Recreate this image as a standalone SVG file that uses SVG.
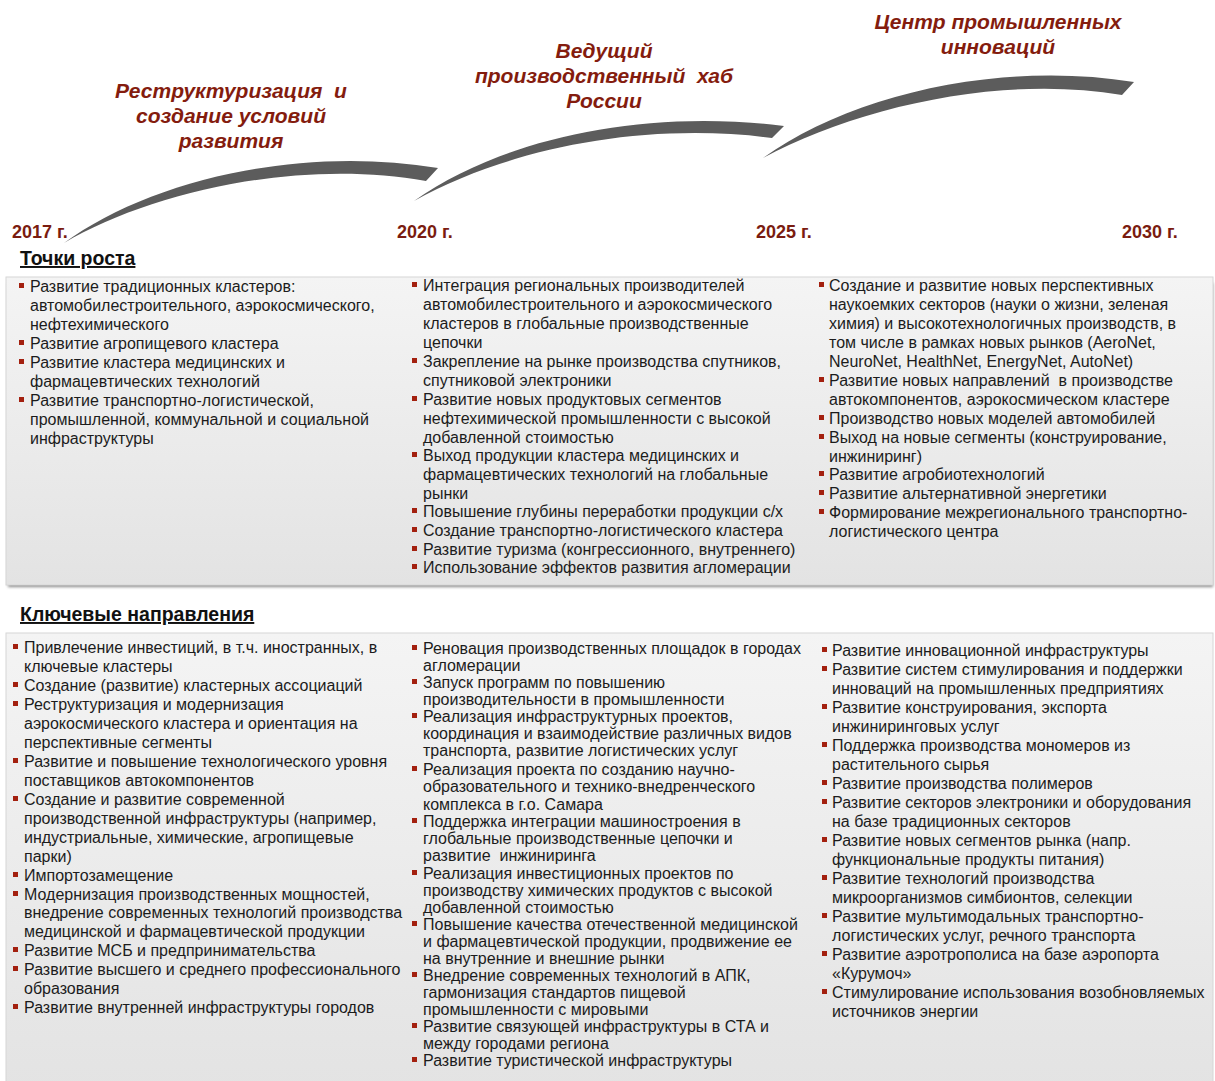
<svg xmlns="http://www.w3.org/2000/svg" width="1215" height="1081" viewBox="0 0 1215 1081">
<style>
.t{font-family:"Liberation Sans",Arial,sans-serif;font-size:16px;fill:#1c1c1c}
.ttl{font-family:"Liberation Sans",Arial,sans-serif;font-size:21px;font-weight:bold;font-style:italic;fill:#841c0e;text-anchor:middle}
.yr{font-family:"Liberation Sans",Arial,sans-serif;font-size:18px;font-weight:bold;fill:#7a1c10}
.hd{font-family:"Liberation Sans",Arial,sans-serif;font-size:19.5px;font-weight:bold;fill:#111;text-decoration:underline}
.b{fill:#a3200f}
.arc{fill:#5c5c5c;filter:url(#soft)}
.panel{fill:url(#pg);stroke:#d6d6d6;stroke-width:1}
</style>
<defs>
<linearGradient id="pg" x1="0" y1="0" x2="0" y2="1">
<stop offset="0" stop-color="#f4f4f4"/>
<stop offset="1" stop-color="#e3e3e3"/>
</linearGradient>
<filter id="soft" x="-5%" y="-20%" width="110%" height="140%"><feGaussianBlur stdDeviation="0.7"/></filter>
<filter id="sh" x="-2%" y="-5%" width="104%" height="112%"><feGaussianBlur stdDeviation="1.5"/></filter>
</defs>

<g id="timeline">
<path class="arc" d="M64,243 C150,180 300,145 438,168 L426,181 C300,158 150,192 64,243 Z"/>
<path class="arc" d="M414,201 C500,140 640,108 784,126 L772,138 C640,121 505,150 414,201 Z"/>
<path class="arc" d="M763,158 C850,95 1000,60 1134,82 L1122,95 C1000,74 855,108 763,158 Z"/>
</g>

<g id="stage-titles">
<text class="ttl" x="231" y="98">Реструктуризация&#160; и</text>
<text class="ttl" x="231" y="123">создание условий</text>
<text class="ttl" x="231" y="148">развития</text>
<text class="ttl" x="604" y="58">Ведущий</text>
<text class="ttl" x="604" y="83">производственный&#160; хаб</text>
<text class="ttl" x="604" y="108">России</text>
<text class="ttl" x="998" y="29">Центр промышленных</text>
<text class="ttl" x="998" y="54">инноваций</text>
</g>

<g id="years">
<text class="yr" x="12" y="238">2017 г.</text>
<text class="yr" x="397" y="238">2020 г.</text>
<text class="yr" x="756" y="238">2025 г.</text>
<text class="yr" x="1122" y="238">2030 г.</text>
</g>

<g id="growth-points">
<text class="hd" x="20" y="265">Точки роста</text>
<rect x="8" y="283" width="1205" height="304" fill="#8a8a8a" filter="url(#sh)"/>
<rect class="panel" x="6" y="277" width="1207" height="308"/>
<g id="gp-col1">
<rect class="b" x="19" y="283" width="5" height="5"/>
<rect class="b" x="19" y="340" width="5" height="5"/>
<rect class="b" x="19" y="359" width="5" height="5"/>
<rect class="b" x="19" y="397" width="5" height="5"/>
<text class="t">
<tspan x="30" y="292">Развитие традиционных кластеров:</tspan>
<tspan x="30" y="311">автомобилестроительного, аэрокосмического,</tspan>
<tspan x="30" y="330">нефтехимического</tspan>
<tspan x="30" y="349">Развитие агропищевого кластера</tspan>
<tspan x="30" y="368">Развитие кластера медицинских и</tspan>
<tspan x="30" y="387">фармацевтических технологий</tspan>
<tspan x="30" y="406">Развитие транспортно-логистической,</tspan>
<tspan x="30" y="425">промышленной, коммунальной и социальной</tspan>
<tspan x="30" y="444">инфраструктуры</tspan>
</text>
</g>
<g id="gp-col2">
<rect class="b" x="412" y="282" width="5" height="5"/>
<rect class="b" x="412" y="358" width="5" height="5"/>
<rect class="b" x="412" y="396" width="5" height="5"/>
<rect class="b" x="412" y="452" width="5" height="5"/>
<rect class="b" x="412" y="508" width="5" height="5"/>
<rect class="b" x="412" y="527" width="5" height="5"/>
<rect class="b" x="412" y="546" width="5" height="5"/>
<rect class="b" x="412" y="564" width="5" height="5"/>
<text class="t">
<tspan x="423" y="291">Интеграция региональных производителей</tspan>
<tspan x="423" y="310">автомобилестроительного и аэрокосмического</tspan>
<tspan x="423" y="329">кластеров в глобальные производственные</tspan>
<tspan x="423" y="348">цепочки</tspan>
<tspan x="423" y="367">Закрепление на рынке производства спутников,</tspan>
<tspan x="423" y="386">спутниковой электроники</tspan>
<tspan x="423" y="405">Развитие новых продуктовых сегментов</tspan>
<tspan x="423" y="424">нефтехимической промышленности с высокой</tspan>
<tspan x="423" y="443">добавленной стоимостью</tspan>
<tspan x="423" y="461">Выход продукции кластера медицинских и</tspan>
<tspan x="423" y="480">фармацевтических технологий на глобальные</tspan>
<tspan x="423" y="499">рынки</tspan>
<tspan x="423" y="517">Повышение глубины переработки продукции с/х</tspan>
<tspan x="423" y="536">Создание транспортно-логистического кластера</tspan>
<tspan x="423" y="555">Развитие туризма (конгрессионного, внутреннего)</tspan>
<tspan x="423" y="573">Использование эффектов развития агломерации</tspan>
</text>
</g>
<g id="gp-col3">
<rect class="b" x="819" y="282" width="5" height="5"/>
<rect class="b" x="819" y="377" width="5" height="5"/>
<rect class="b" x="819" y="415" width="5" height="5"/>
<rect class="b" x="819" y="434" width="5" height="5"/>
<rect class="b" x="819" y="471" width="5" height="5"/>
<rect class="b" x="819" y="490" width="5" height="5"/>
<rect class="b" x="819" y="509" width="5" height="5"/>
<text class="t">
<tspan x="829" y="291">Создание и развитие новых перспективных</tspan>
<tspan x="829" y="310">наукоемких секторов (науки о жизни, зеленая</tspan>
<tspan x="829" y="329">химия) и высокотехнологичных производств, в</tspan>
<tspan x="829" y="348">том числе в рамках новых рынков (AeroNet,</tspan>
<tspan x="829" y="367">NeuroNet, HealthNet, EnergyNet, AutoNet)</tspan>
<tspan x="829" y="386">Развитие новых направлений&#160; в производстве</tspan>
<tspan x="829" y="405">автокомпонентов, аэрокосмическом кластере</tspan>
<tspan x="829" y="424">Производство новых моделей автомобилей</tspan>
<tspan x="829" y="443">Выход на новые сегменты (конструирование,</tspan>
<tspan x="829" y="462">инжиниринг)</tspan>
<tspan x="829" y="480">Развитие агробиотехнологий</tspan>
<tspan x="829" y="499">Развитие альтернативной энергетики</tspan>
<tspan x="829" y="518">Формирование межрегионального транспортно-</tspan>
<tspan x="829" y="537">логистического центра</tspan>
</text>
</g>
</g>

<g id="key-directions">
<text class="hd" x="20" y="621">Ключевые направления</text>
<rect class="panel" x="6" y="633" width="1207" height="460"/>
<g id="kd-col1">
<rect class="b" x="13" y="644" width="5" height="5"/>
<rect class="b" x="13" y="682" width="5" height="5"/>
<rect class="b" x="13" y="701" width="5" height="5"/>
<rect class="b" x="13" y="758" width="5" height="5"/>
<rect class="b" x="13" y="796" width="5" height="5"/>
<rect class="b" x="13" y="872" width="5" height="5"/>
<rect class="b" x="13" y="891" width="5" height="5"/>
<rect class="b" x="13" y="947" width="5" height="5"/>
<rect class="b" x="13" y="966" width="5" height="5"/>
<rect class="b" x="13" y="1004" width="5" height="5"/>
<text class="t">
<tspan x="24" y="653">Привлечение инвестиций, в т.ч. иностранных, в</tspan>
<tspan x="24" y="672">ключевые кластеры</tspan>
<tspan x="24" y="691">Создание (развитие) кластерных ассоциаций</tspan>
<tspan x="24" y="710">Реструктуризация и модернизация</tspan>
<tspan x="24" y="729">аэрокосмического кластера и ориентация на</tspan>
<tspan x="24" y="748">перспективные сегменты</tspan>
<tspan x="24" y="767">Развитие и повышение технологического уровня</tspan>
<tspan x="24" y="786">поставщиков автокомпонентов</tspan>
<tspan x="24" y="805">Создание и развитие современной</tspan>
<tspan x="24" y="824">производственной инфраструктуры (например,</tspan>
<tspan x="24" y="843">индустриальные, химические, агропищевые</tspan>
<tspan x="24" y="862">парки)</tspan>
<tspan x="24" y="881">Импортозамещение</tspan>
<tspan x="24" y="900">Модернизация производственных мощностей,</tspan>
<tspan x="24" y="918">внедрение современных технологий производства</tspan>
<tspan x="24" y="937">медицинской и фармацевтической продукции</tspan>
<tspan x="24" y="956">Развитие МСБ и предпринимательства</tspan>
<tspan x="24" y="975">Развитие высшего и среднего профессионального</tspan>
<tspan x="24" y="994">образования</tspan>
<tspan x="24" y="1013">Развитие внутренней инфраструктуры городов</tspan>
</text>
</g>
<g id="kd-col2">
<rect class="b" x="412" y="645" width="5" height="5"/>
<rect class="b" x="412" y="679" width="5" height="5"/>
<rect class="b" x="412" y="713" width="5" height="5"/>
<rect class="b" x="412" y="766" width="5" height="5"/>
<rect class="b" x="412" y="818" width="5" height="5"/>
<rect class="b" x="412" y="870" width="5" height="5"/>
<rect class="b" x="412" y="921" width="5" height="5"/>
<rect class="b" x="412" y="972" width="5" height="5"/>
<rect class="b" x="412" y="1023" width="5" height="5"/>
<rect class="b" x="412" y="1057" width="5" height="5"/>
<text class="t">
<tspan x="423" y="654">Реновация производственных площадок в городах</tspan>
<tspan x="423" y="671">агломерации</tspan>
<tspan x="423" y="688">Запуск программ по повышению</tspan>
<tspan x="423" y="705">производительности в промышленности</tspan>
<tspan x="423" y="722">Реализация инфраструктурных проектов,</tspan>
<tspan x="423" y="739">координация и взаимодействие различных видов</tspan>
<tspan x="423" y="756">транспорта, развитие логистических услуг</tspan>
<tspan x="423" y="775">Реализация проекта по созданию научно-</tspan>
<tspan x="423" y="792">образовательного и технико-внедренческого</tspan>
<tspan x="423" y="810">комплекса в г.о. Самара</tspan>
<tspan x="423" y="827">Поддержка интеграции машиностроения в</tspan>
<tspan x="423" y="844">глобальные производственные цепочки и</tspan>
<tspan x="423" y="861">развитие&#160; инжиниринга</tspan>
<tspan x="423" y="879">Реализация инвестиционных проектов по</tspan>
<tspan x="423" y="896">производству химических продуктов с высокой</tspan>
<tspan x="423" y="913">добавленной стоимостью</tspan>
<tspan x="423" y="930">Повышение качества отечественной медицинской</tspan>
<tspan x="423" y="947">и фармацевтической продукции, продвижение ее</tspan>
<tspan x="423" y="964">на внутренние и внешние рынки</tspan>
<tspan x="423" y="981">Внедрение современных технологий в АПК,</tspan>
<tspan x="423" y="998">гармонизация стандартов пищевой</tspan>
<tspan x="423" y="1015">промышленности с мировыми</tspan>
<tspan x="423" y="1032">Развитие связующей инфраструктуры в СТА и</tspan>
<tspan x="423" y="1049">между городами региона</tspan>
<tspan x="423" y="1066">Развитие туристической инфраструктуры</tspan>
</text>
</g>
<g id="kd-col3">
<rect class="b" x="822" y="647" width="5" height="5"/>
<rect class="b" x="822" y="666" width="5" height="5"/>
<rect class="b" x="822" y="704" width="5" height="5"/>
<rect class="b" x="822" y="742" width="5" height="5"/>
<rect class="b" x="822" y="780" width="5" height="5"/>
<rect class="b" x="822" y="799" width="5" height="5"/>
<rect class="b" x="822" y="837" width="5" height="5"/>
<rect class="b" x="822" y="875" width="5" height="5"/>
<rect class="b" x="822" y="913" width="5" height="5"/>
<rect class="b" x="822" y="951" width="5" height="5"/>
<rect class="b" x="822" y="989" width="5" height="5"/>
<text class="t">
<tspan x="832" y="656">Развитие инновационной инфраструктуры</tspan>
<tspan x="832" y="675">Развитие систем стимулирования и поддержки</tspan>
<tspan x="832" y="694">инноваций на промышленных предприятиях</tspan>
<tspan x="832" y="713">Развитие конструирования, экспорта</tspan>
<tspan x="832" y="732">инжиниринговых услуг</tspan>
<tspan x="832" y="751">Поддержка производства мономеров из</tspan>
<tspan x="832" y="770">растительного сырья</tspan>
<tspan x="832" y="789">Развитие производства полимеров</tspan>
<tspan x="832" y="808">Развитие секторов электроники и оборудования</tspan>
<tspan x="832" y="827">на базе традиционных секторов</tspan>
<tspan x="832" y="846">Развитие новых сегментов рынка (напр.</tspan>
<tspan x="832" y="865">функциональные продукты питания)</tspan>
<tspan x="832" y="884">Развитие технологий производства</tspan>
<tspan x="832" y="903">микроорганизмов симбионтов, селекции</tspan>
<tspan x="832" y="922">Развитие мультимодальных транспортно-</tspan>
<tspan x="832" y="941">логистических услуг, речного транспорта</tspan>
<tspan x="832" y="960">Развитие аэротрополиса на базе аэропорта</tspan>
<tspan x="832" y="979">«Курумоч»</tspan>
<tspan x="832" y="998">Стимулирование использования возобновляемых</tspan>
<tspan x="832" y="1017">источников энергии</tspan>
</text>
</g>
</g>
</svg>
